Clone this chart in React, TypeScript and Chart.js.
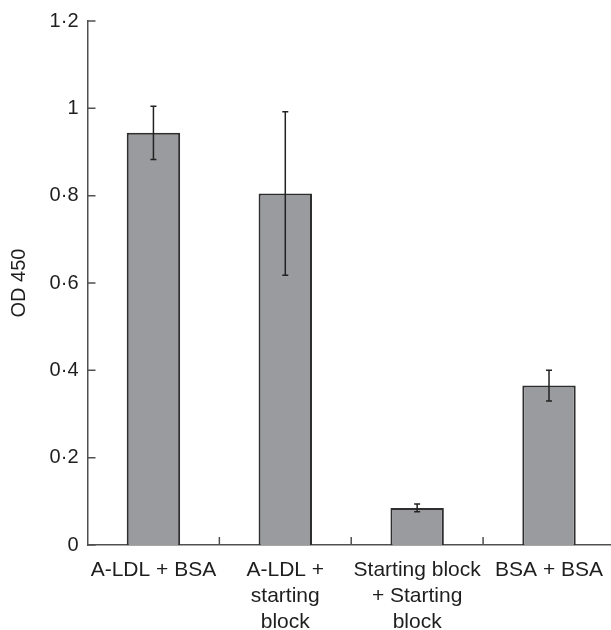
import React, { useEffect, useRef } from "react";
import { Chart, registerables } from "chart.js";

Chart.register(...registerables);

const categories: string[][] = [
  ["A-LDL + BSA"],
  ["A-LDL +", "starting", "block"],
  ["Starting block", "+ Starting", "block"],
  ["BSA + BSA"],
];
const meanValues: number[] = [0.944, 0.805, 0.085, 0.365];
const errorValues: number[] = [0.061, 0.187, 0.009, 0.035];
const yTickValues: number[] = [0, 0.2, 0.4, 0.6, 0.8, 1, 1.2];

const AXIS_COLOR = "#505050";
const TEXT_COLOR = "#1e1e1e";

const errorBarPlugin = {
  id: "errorBars",
  afterDatasetsDraw(chart: any) {
    const meta = chart.getDatasetMeta(0);
    const yScale = chart.scales.y;
    const ctx = chart.ctx;
    ctx.save();
    ctx.strokeStyle = "#222222";
    ctx.lineWidth = 1.5;
    meta.data.forEach((bar: any, i: number) => {
      const x = bar.x;
      const top = yScale.getPixelForValue(meanValues[i] + errorValues[i]);
      const bot = yScale.getPixelForValue(meanValues[i] - errorValues[i]);
      const cap = 3;
      ctx.beginPath();
      ctx.moveTo(x, top);
      ctx.lineTo(x, bot);
      ctx.moveTo(x - cap, top);
      ctx.lineTo(x + cap, top);
      ctx.moveTo(x - cap, bot);
      ctx.lineTo(x + cap, bot);
      ctx.stroke();
    });
    ctx.restore();
  },
};

const innerTicksPlugin = {
  id: "innerTicks",
  afterDraw(chart: any) {
    const { ctx, chartArea, scales } = chart;
    const y = scales.y;
    ctx.save();
    ctx.strokeStyle = AXIS_COLOR;
    ctx.lineWidth = 1.5;
    ctx.beginPath();
    yTickValues.forEach((v) => {
      const py = y.getPixelForValue(v);
      ctx.moveTo(chartArea.left, py);
      ctx.lineTo(chartArea.left + 8, py);
    });
    const n = categories.length;
    const step = (chartArea.right - chartArea.left) / n;
    for (let i = 1; i <= n; i++) {
      const px = chartArea.left + step * i;
      ctx.moveTo(px, chartArea.bottom);
      ctx.lineTo(px, chartArea.bottom - 8);
    }
    ctx.stroke();
    ctx.restore();
  },
};

export default function App() {
  const canvasRef = useRef<HTMLCanvasElement | null>(null);

  useEffect(() => {
    if (!canvasRef.current) return;
    const chart = new Chart(canvasRef.current, {
      type: "bar",
      data: {
        labels: categories,
        datasets: [
          {
            data: meanValues,
            backgroundColor: "#9a9b9f",
            borderColor: "#2e2e2e",
            borderWidth: 2,
            barPercentage: 0.405,
            categoryPercentage: 1,
          },
        ],
      },
      options: {
        animation: false,
        responsive: false,
        maintainAspectRatio: false,
        layout: { padding: { top: 20, left: 0, right: 0, bottom: 0 } },
        plugins: {
          legend: { display: false },
          tooltip: { enabled: false },
        },
        scales: {
          x: {
            grid: { display: false, drawTicks: false },
            border: { display: true, color: AXIS_COLOR, width: 1.5 },
            ticks: {
              color: TEXT_COLOR,
              font: { family: "'Liberation Sans', Arial, sans-serif", size: 21, lineHeight: 1.24 },
              padding: 12,
              maxRotation: 0,
              autoSkip: false,
            },
            afterFit: (scale: any) => {
              scale.height = 85;
            },
          },
          y: {
            min: 0,
            max: 1.2,
            grid: { display: false, drawTicks: false },
            border: { display: true, color: AXIS_COLOR, width: 1.5 },
            ticks: {
              stepSize: 0.2,
              color: TEXT_COLOR,
              font: { family: "'Liberation Sans', Arial, sans-serif", size: 20 },
              padding: 9,
              callback: (value: any) => {
                const v = Math.round(Number(value) * 10) / 10;
                return String(v).replace(".", "\u00b7");
              },
            },
            title: {
              display: true,
              text: "OD 450",
              color: TEXT_COLOR,
              font: { family: "'Liberation Sans', Arial, sans-serif", size: 20 },
              padding: { top: 7, bottom: 0 },
            },
            afterFit: (scale: any) => {
              scale.width = 87.5;
            },
          },
        },
      },
      plugins: [errorBarPlugin, innerTicksPlugin],
    });
    return () => chart.destroy();
  }, []);

  return (
    <div
      style={{
        position: "fixed",
        left: 0,
        top: 0,
        width: 611,
        height: 630,
        overflow: "hidden",
        background: "#ffffff",
      }}
    >
      <canvas ref={canvasRef} width={615} height={630} style={{ display: "block" }} />
    </div>
  );
}
